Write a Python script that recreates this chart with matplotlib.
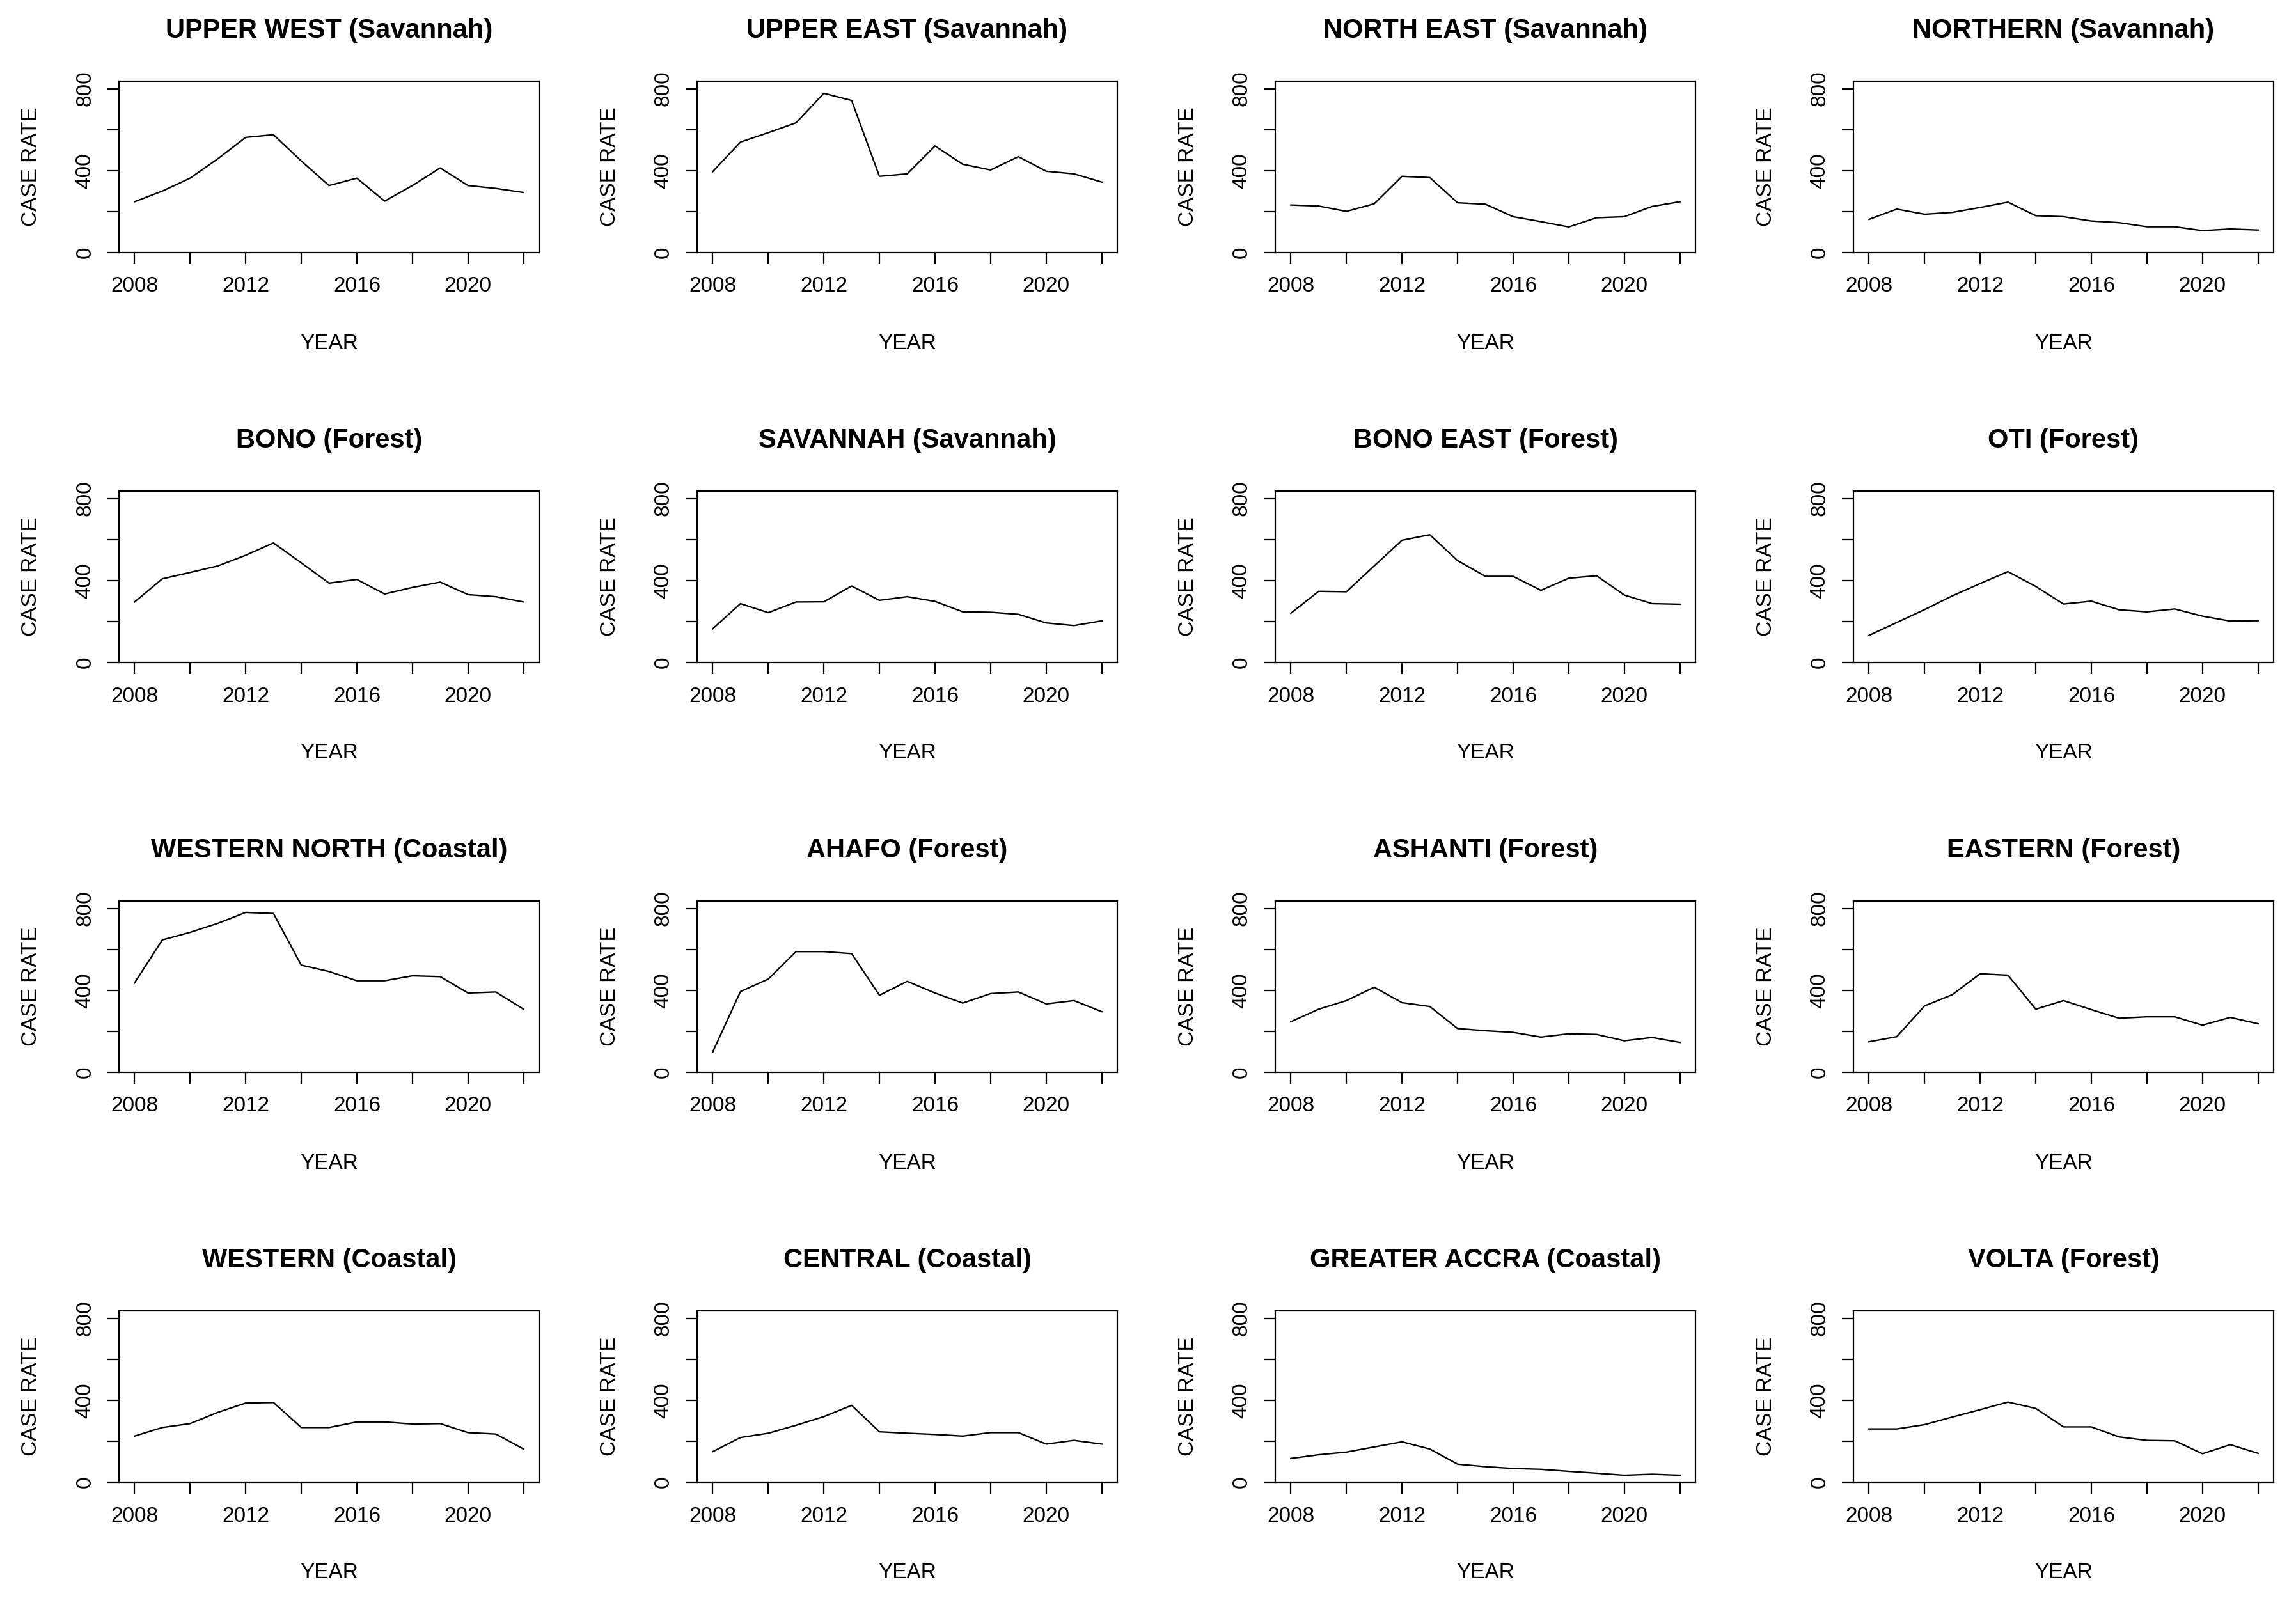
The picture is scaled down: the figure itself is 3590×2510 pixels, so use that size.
import matplotlib.pyplot as plt

plt.rcParams['font.family'] = ['Liberation Sans', 'DejaVu Sans']

# ---------- data ----------
years = list(range(2008, 2023))

regions = [
    "UPPER WEST (Savannah)", "UPPER EAST (Savannah)", "NORTH EAST (Savannah)", "NORTHERN (Savannah)",
    "BONO (Forest)", "SAVANNAH (Savannah)", "BONO EAST (Forest)", "OTI (Forest)",
    "WESTERN NORTH (Coastal)", "AHAFO (Forest)", "ASHANTI (Forest)", "EASTERN (Forest)",
    "WESTERN (Coastal)", "CENTRAL (Coastal)", "GREATER ACCRA (Coastal)", "VOLTA (Forest)",
]

upper_west = [248, 300, 363, 458, 562, 575, 447, 327, 363, 251, 327, 413, 327, 313, 293]
upper_east = [395, 539, 585, 633, 777, 742, 372, 384, 520, 431, 403, 468, 397, 384, 344]
north_east = [232, 227, 201, 238, 372, 366, 243, 236, 175, 151, 125, 170, 175, 225, 248]
northern = [162, 212, 187, 196, 220, 246, 180, 175, 154, 146, 126, 126, 107, 115, 110]
bono = [295, 408, 439, 471, 523, 583, 486, 387, 405, 334, 366, 392, 331, 321, 295]
savannah = [164, 287, 243, 295, 296, 373, 303, 321, 298, 247, 245, 235, 193, 180, 203]
bono_east = [240, 347, 345, 471, 596, 623, 497, 420, 420, 352, 411, 423, 329, 287, 284]
oti = [132, 195, 258, 325, 385, 443, 371, 285, 299, 257, 247, 261, 226, 202, 204]
western_north = [436, 646, 683, 727, 780, 775, 523, 492, 447, 447, 471, 467, 387, 392, 308]
ahafo = [99, 394, 455, 589, 589, 579, 376, 444, 387, 338, 384, 392, 334, 350, 296]
ashanti = [247, 308, 350, 415, 340, 321, 214, 203, 195, 172, 188, 185, 154, 170, 146]
eastern = [149, 174, 324, 379, 481, 474, 308, 350, 306, 264, 271, 271, 230, 268, 237]
western = [225, 267, 286, 341, 386, 389, 267, 267, 294, 294, 284, 286, 242, 235, 162]
central = [149, 218, 239, 278, 320, 375, 246, 239, 233, 225, 242, 242, 186, 204, 186]
greater_accra = [116, 134, 147, 172, 197, 162, 88, 76, 67, 63, 53, 44, 34, 39, 34]
volta = [260, 260, 281, 318, 354, 391, 360, 270, 270, 221, 204, 202, 139, 183, 141]

series = [upper_west, upper_east, north_east, northern,
          bono, savannah, bono_east, oti,
          western_north, ahafo, ashanti, eastern,
          western, central, greater_accra, volta]

x_ticks = list(range(2008, 2023, 2))
x_labels = ["2008", "", "2012", "", "2016", "", "2020", ""]
y_ticks = [0, 200, 400, 600, 800]
y_labels = ["0", "", "400", "", "800"]

# ---------- layout (pixels) ----------
W, H = 3590, 2510
box_w, box_h = 657, 268
left0, top0 = 186, 127
dx, dy = 904, 641

fig = plt.figure(figsize=(W / 100, H / 100), dpi=100)

for i, (name, vals) in enumerate(zip(regions, series)):
    r, c = divmod(i, 4)
    left = (left0 + c * dx) / W
    bottom = 1 - (top0 + r * dy + box_h) / H
    ax = fig.add_axes([left, bottom, box_w / W, box_h / H])

    ax.plot(years, vals, color="black", linewidth=1.7)

    ax.set_xlim(2007.44, 2022.56)
    ax.set_ylim(0, 836)
    ax.set_xticks(x_ticks)
    ax.set_xticklabels(x_labels)
    ax.set_yticks(y_ticks)
    ax.set_yticklabels(y_labels, rotation=90, va="center")
    ax.tick_params(direction="out", length=13, width=1.6, labelsize=24, pad=14)

    for s in ax.spines.values():
        s.set_linewidth(1.6)

    ax.set_title(name, fontsize=30, fontweight="bold", y=1 + 79 / box_h, va="center", pad=0)
    ax.set_xlabel("YEAR", fontsize=24, va="center")
    ax.xaxis.set_label_coords(0.5, -142 / box_h)
    ax.set_ylabel("CASE RATE", fontsize=24, va="center")
    ax.yaxis.set_label_coords(-137 / box_w, 0.5)

plt.savefig("out.png", dpi=100)
